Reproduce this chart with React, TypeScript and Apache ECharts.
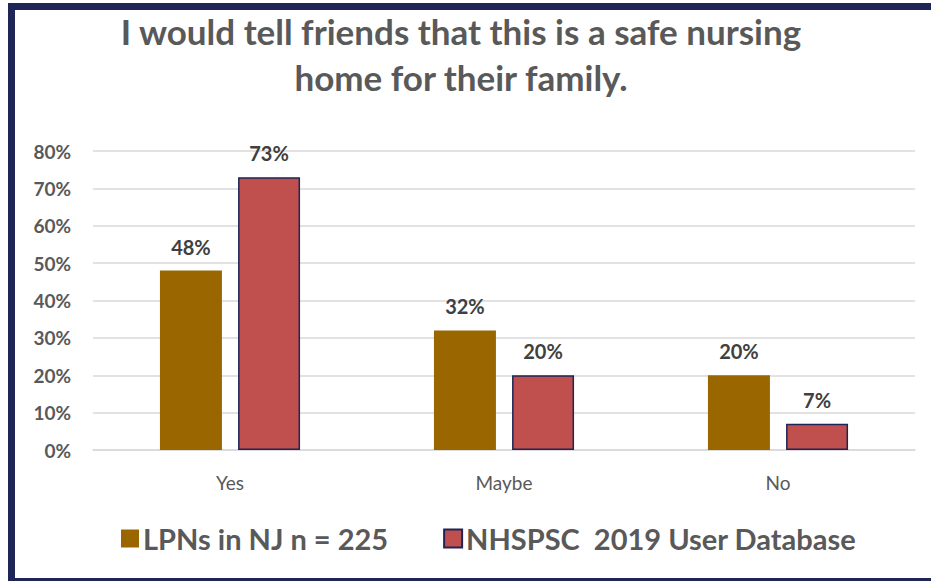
import React, { useEffect, useRef } from "react";
import * as echarts from "echarts";

const categories = ["Yes", "Maybe", "No"];
const lpnValues = [48, 32, 20];
const nhspscValues = [73, 20, 7];
const seriesNames = ["LPNs in NJ n = 225", "NHSPSC  2019 User Database"];
const titleLines = ["I would tell friends that this is a safe nursing", "home for their family."];

export default function App() {
  const ref = useRef<HTMLDivElement>(null);
  useEffect(() => {
    if (!ref.current) return;
    const chart = echarts.init(ref.current, null, { renderer: "svg" });
    const font = "Lato, 'Open Sans', sans-serif";
    const dataLabel = {
      show: true,
      position: "top",
      distance: 14,
      formatter: "{c}%",
      fontFamily: font,
      fontSize: 20,
      fontWeight: "bold",
      color: "#404040",
    };
    chart.setOption({
      animation: false,
      backgroundColor: "#ffffff",
      textStyle: { fontFamily: font },
      title: {
        text: titleLines.join("\n"),
        left: 456,
        textAlign: "center",
        top: 3,
        textStyle: {
          fontFamily: font,
          fontSize: 35,
          fontWeight: "bold",
          color: "#595959",
          lineHeight: 46,
        },
      },
      graphic: [
        {
          type: "rect",
          silent: true,
          z: 100,
          shape: { x: 11.5, y: 6.5, width: 960, height: 575 },
          style: { fill: "none", stroke: "#1F2556", lineWidth: 7 },
        },
      ],
      legend: {
        top: 519,
        left: 116,
        itemWidth: 18,
        itemHeight: 18,
        itemGap: 55,
        icon: "rect",
        textStyle: { fontFamily: font, fontSize: 29, fontWeight: "bold", color: "#595959", padding: [0, 0, 0, -1] },
        data: seriesNames,
      },
      grid: { left: 93, right: 16, top: 151, bottom: 131 },
      xAxis: {
        type: "category",
        data: categories,
        axisLine: { lineStyle: { color: "#D9D9D9", width: 1.5 } },
        axisTick: { show: false },
        axisLabel: { fontFamily: font, fontSize: 19, color: "#595959", margin: 23 },
      },
      yAxis: {
        type: "value",
        min: 0,
        max: 80,
        interval: 10,
        axisLine: { show: false },
        axisTick: { show: false },
        splitLine: { lineStyle: { color: "#D9D9D9", width: 1.5 } },
        axisLabel: {
          fontFamily: font,
          fontSize: 19,
          fontWeight: "bold",
          color: "#595959",
          margin: 22,
          formatter: "{value}%",
        },
      },
      series: [
        {
          name: seriesNames[0],
          type: "bar",
          data: lpnValues,
          barWidth: 62,
          barGap: "26%",
          itemStyle: { color: "#996600" },
          label: dataLabel,
        },
        {
          name: seriesNames[1],
          type: "bar",
          data: nhspscValues,
          barWidth: 62,
          itemStyle: { color: "#C0504D", borderColor: "#1F2556", borderWidth: 1.5 },
          label: dataLabel,
        },
      ],
    });
    return () => chart.dispose();
  }, []);
  return <div ref={ref} style={{ position: "absolute", left: 0, top: 0, width: 931, height: 581 }} />;
}
